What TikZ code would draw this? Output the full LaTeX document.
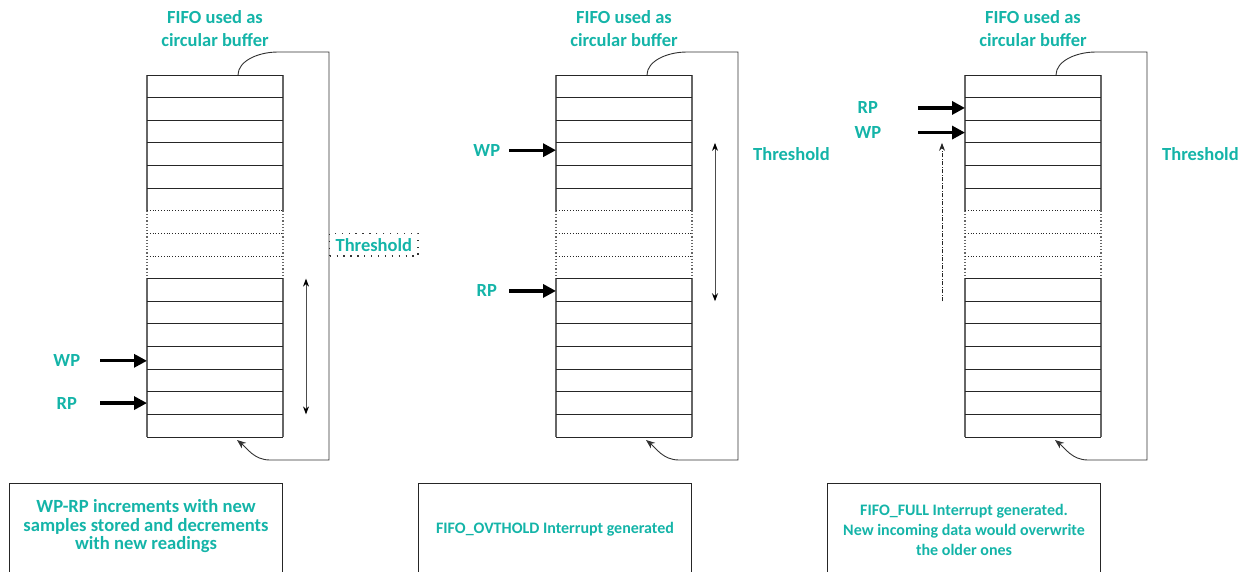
\documentclass[tikz,border=0pt]{standalone}
\usepackage{fontspec}
\setmainfont{Carlito}
\usepackage{tikz}
\usetikzlibrary{arrows.meta}
\usetikzlibrary{positioning}
\definecolor{fifoteal}{RGB}{20,180,168}
\tikzset{
    fifocell/.style={minimum width=136pt, minimum height=22.625pt, inner sep=0pt, outer sep=0pt},
    rowline/.style={black!85, line width=0.8pt},
    sideline/.style={black!60, line width=1.2pt},
    wrapline/.style={black!80, line width=0.9pt, -{Stealth[length=9pt,width=7pt]}},
    ptr/.style={line width=3.2pt, -{Triangle[length=13pt,width=13pt]}},
    spanarrow/.style={black!70, line width=0.9pt, {Stealth[length=8pt,width=6pt,color=black]}-{Stealth[length=8pt,width=6pt,color=black]}},
    dasharrow/.style={black!85, line width=0.9pt, dash pattern=on 4pt off 1.5pt on 1pt off 1.5pt, -{Stealth[length=8pt,width=6pt]}},
    tlabel/.style={text=fifoteal, font=\bfseries\fontsize{18.5}{23}\selectfont, inner sep=0pt, align=center},
    ptrlabel/.style={tlabel, minimum width=30pt},
    notebox/.style={draw=black!85, line width=0.9pt, minimum width=273pt, minimum height=92pt, text=fifoteal, align=center, inner sep=0pt}
}
\newcommand{\fifo}[2] {
    \foreach \i in {1,...,16}
        \node[fifocell] (#1-\i) at (#2+68, 75+\i*22.625-11.3125) {};
    \draw[sideline] (#1-1.north west) -- (#1-6.south west) (#1-1.north east) -- (#1-6.south east);
    \draw[sideline, dotted] (#1-7.north west) -- (#1-9.south west) (#1-7.north east) -- (#1-9.south east);
    \draw[sideline] (#1-10.north west) -- (#1-16.south west) (#1-10.north east) -- (#1-16.south east);
    \foreach \i in {1,2,3,4,5,6,10,11,12,13,14,15,16}
        \draw[rowline] (#1-\i.north west) -- (#1-\i.north east);
    \foreach \i in {7,8,9}
        \draw[rowline, dotted] (#1-\i.north west) -- (#1-\i.north east);
    \draw[rowline] (#1-16.south west) -- (#1-16.south east);
    \draw[wrapline] ([xshift=23pt]#1-1.north) .. controls +(0,-14) and +(-20,0) .. ++(40,-23)
        -- ++(51,0) -- ++(0,408) -- ++(-59,0) .. controls +(-16,0) and +(10,8) .. ([shift={(22,3)}]#1-16.south);
}
\newcommand{\pointer}[4] {
    \coordinate (#1#3) at ([shift={(-47,#4)}]#3.west);
    \draw[ptr] (#1#3) -- (#1#3 -| #3.west);
    \node[ptrlabel, left=#2pt of #1#3] (#1#3lbl) {#1};
}

\begin{document}
\begin{tikzpicture}[x=1pt, y=-1pt]
    \useasboundingbox (0,0) rectangle (1243,571);
    \clip (0,0) rectangle (1243,571);

    % Filling up
    \fifo{A}{147}
    \node[tlabel, above=28pt of A-1] (titleA) {FIFO used as\\circular buffer};
    \pointer{WP}{18}{A-13}{3}
    \pointer{RP}{18}{A-15}{0}
    \draw[spanarrow] ([xshift=23pt]A-10.north east) -- ([xshift=23pt]A-16.north east);
    \node[tlabel, draw=black!80, line width=1.2pt, dash pattern=on 1.3pt off 5.6pt,
        minimum height=22.625pt, inner xsep=6pt, right=46pt of A-8] (thA) {Threshold};
    \node[notebox, font=\bfseries\fontsize{18.6}{18.5}\selectfont, below left=46pt and 0pt of A-16.south east] (noteA)
        {WP-RP increments with new\\samples stored and decrements\\with new readings\\[-9pt]\mbox{}};

    % Threshold reached
    \fifo{B}{556}
    \node[tlabel, above=28pt of B-1] (titleB) {FIFO used as\\circular buffer};
    \pointer{WP}{7}{B-4}{-4}
    \pointer{RP}{7}{B-10}{1}
    \draw[spanarrow] ([xshift=23pt]B-4.north east) -- ([xshift=23pt]B-11.north east);
    \node[tlabel, right=61pt of B-4] (thB) {Threshold};
    \node[notebox, font=\bfseries\fontsize{16}{20}\selectfont, below left=46pt and 0pt of B-16.south east] (noteB)
        {FIFO\_OVTHOLD Interrupt generated};

    % Full
    \fifo{C}{965}
    \node[tlabel, above=28pt of C-1] (titleC) {FIFO used as\\circular buffer};
    \pointer{RP}{35}{C-2}{-1}
    \pointer{WP}{35}{C-3}{1}
    \draw[dasharrow] ([xshift=-23pt]C-11.north west) -- ([xshift=-23pt]C-4.north west);
    \node[tlabel, right=61pt of C-4] (thC) {Threshold};
    \node[notebox, font=\bfseries\fontsize{16}{20}\selectfont, below left=46pt and 0pt of C-16.south east] (noteC)
        {FIFO\_FULL Interrupt generated.\\New incoming data would overwrite\\the older ones};
\end{tikzpicture}
\end{document}
